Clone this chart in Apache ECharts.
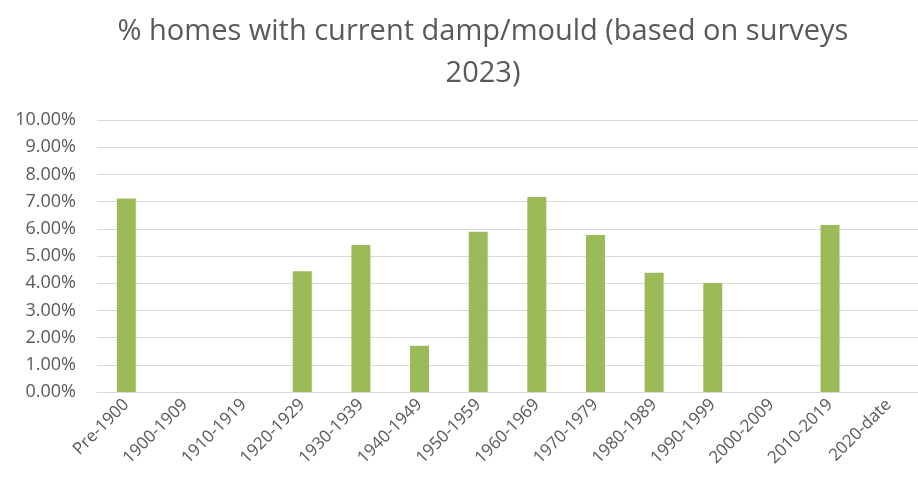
<!DOCTYPE html>
<html>
<head>
<meta charset="utf-8">
<script src="https://cdn.jsdelivr.net/npm/echarts@6/dist/echarts.min.js"></script>
<style>
  html, body { margin: 0; padding: 0; background: #fff; }
  #chart { width: 918px; height: 488px; }
</style>
</head>
<body>
<div id="chart"></div>
<script>
// 数据
const categories = ['Pre-1900', '1900-1909', '1910-1919', '1920-1929', '1930-1939', '1940-1949',
    '1950-1959', '1960-1969', '1970-1979', '1980-1989', '1990-1999', '2000-2009', '2010-2019', '2020-date']
const dampValues = [7.11, null, null, 4.44, 5.40, 1.70, 5.89, 7.17, 5.77, 4.38, 4.01, null, 6.14, null]
const yTicks = [0, 1, 2, 3, 4, 5, 6, 7, 8, 9, 10]

const chart = echarts.init(document.getElementById('chart'))
chart.setOption({
    animation: false,
    title: {
        text: '% homes with current damp/mould (based on surveys\n2023)',
        left: 478,
        textAlign: 'center',
        top: 6,
        textStyle: {
            fontFamily: 'Open Sans',
            fontWeight: 'normal',
            fontSize: 29,
            lineHeight: 42,
            color: '#595959'
        }
    },
    grid: {
        left: 97,
        top: 120,
        width: 836,
        height: 272
    },
    xAxis: {
        type: 'category',
        data: categories,
        axisLine: { lineStyle: { color: '#d9d9d9' } },
        axisTick: { show: false },
        axisLabel: {
            rotate: 45,
            interval: 0,
            margin: 10,
            color: '#595959',
            fontFamily: 'Open Sans',
            fontSize: 17
        }
    },
    yAxis: {
        type: 'value',
        min: yTicks[0],
        max: yTicks[yTicks.length - 1],
        interval: 1,
        axisLine: { show: false },
        axisTick: { show: false },
        splitLine: { lineStyle: { color: '#d9d9d9', width: 1 } },
        axisLabel: {
            margin: 21,
            color: '#595959',
            fontFamily: 'Open Sans',
            fontSize: 18,
            formatter: v => v.toFixed(2) + '%'
        }
    },
    series: [
        {
            name: 'damp/mould',
            type: 'bar',
            barWidth: 19,
            data: dampValues,
            itemStyle: { color: '#9bbb59' }
        }
    ]
})
</script>
</body>
</html>
